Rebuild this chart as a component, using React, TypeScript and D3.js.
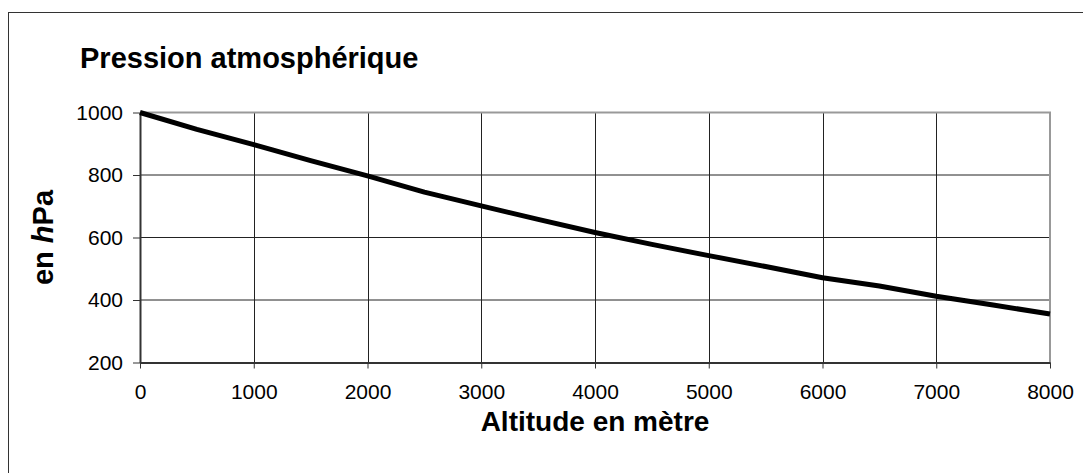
import { useEffect, useRef } from "react"
import * as d3 from "d3";

// altitude (m) and pressure (hPa)
const altitudes = [0, 500, 1000, 1500, 2000, 2500, 3000, 3500, 4000, 4500, 5000, 5500, 6000, 6500, 7000, 7500, 8000]
const pressures = [1000, 946, 897, 846, 797, 745, 701, 658, 616, 578, 542, 507, 471, 445, 412, 384, 355]
const xTicks = [0, 1000, 2000, 3000, 4000, 5000, 6000, 7000, 8000]
const yTicks = [200, 400, 600, 800, 1000]

export default function App() {
    const svgRef = useRef<SVGSVGElement>(null);
    const width = 1083, height = 473

    useEffect(() => {
        const margin = { top: 112.5, right: 33, bottom: 110.5, left: 140 },
            wt = width - margin.left - margin.right,
            ht = height - margin.top - margin.bottom
        const font = "Arial, 'Liberation Sans', sans-serif"

        d3.select(svgRef.current).selectAll("*").remove();
        const root = d3.select(svgRef.current)
            .attr("width", width)
            .attr("height", height)

        // outer frame
        root.append("rect")
            .attr("x", 8.5).attr("y", 12.5)
            .attr("width", width).attr("height", height)
            .attr("fill", "none").attr("stroke", "#333").attr("stroke-width", 1)

        root.append("text")
            .attr("x", 80).attr("y", 68)
            .style("font-family", font)
            .style("font-size", "29px")
            .style("font-weight", "bold")
            .text("Pression atmosphérique")

        const svg = root.append("g")
            .attr("transform", `translate(${margin.left},${margin.top})`);

        const x = d3.scaleLinear().domain([0, 8000]).range([0, wt])
        const y = d3.scaleLinear().domain([200, 1000]).range([ht, 0])

        // grid
        svg.append("g").selectAll("line")
            .data(xTicks.slice(1, -1))
            .join("line")
                .attr("x1", d => Math.round(x(d)) + 0.5).attr("x2", d => Math.round(x(d)) + 0.5)
                .attr("y1", 0).attr("y2", ht)
                .attr("stroke", "#222").attr("stroke-width", 1)
        svg.append("g").selectAll("line")
            .data(yTicks.slice(1, -1))
            .join("line")
                .attr("x1", 0).attr("x2", wt)
                .attr("y1", d => y(d)).attr("y2", d => y(d))
                .attr("stroke", "#222").attr("stroke-width", 1)

        // top and right border
        svg.append("path")
            .attr("d", `M0,0H${wt}V${ht}`)
            .attr("fill", "none").attr("stroke", "#999").attr("stroke-width", 2)

        const xAxis = svg.append("g")
            .attr("transform", `translate(0, ${ht})`)
            .call(d3.axisBottom(x).tickValues(xTicks).tickFormat(d3.format("d")).tickSize(6).tickPadding(16).tickSizeOuter(0))
        xAxis.select(".domain").attr("stroke", "#333").attr("stroke-width", 2)
        xAxis.selectAll(".tick line").attr("stroke", "#333")
        xAxis.selectAll("text")
            .style("font-family", font).style("font-size", "21px").attr("fill", "#000")

        const yAxis = svg.append("g")
            .call(d3.axisLeft(y).tickValues(yTicks).tickFormat(d3.format("d")).tickSize(7).tickPadding(10).tickSizeOuter(0))
        yAxis.select(".domain").attr("stroke", "#333").attr("stroke-width", 2)
        yAxis.selectAll(".tick line").attr("stroke", "#333")
        yAxis.selectAll("text")
            .style("font-family", font).style("font-size", "21px").attr("fill", "#000")

        const line = d3.line<number>()
            .x((d, i) => x(altitudes[i]))
            .y(d => y(d))
        svg.append("path")
            .datum(pressures)
            .attr("d", line)
            .attr("fill", "none")
            .attr("stroke", "#000")
            .attr("stroke-width", 5)
            .attr("stroke-linejoin", "round")

        // x-axis label
        svg.append("text")
            .attr("text-anchor", "middle")
            .attr("x", wt / 2)
            .attr("y", ht + 68)
            .style("font-family", font).style("font-size", "28px").style("font-weight", "bold")
            .text("Altitude en mètre");

        // y-axis label
        const yl = svg.append("text")
            .attr("text-anchor", "middle")
            .attr("transform", `translate(${53 - margin.left},${ht / 2}) rotate(-90)`)
            .style("font-family", font).style("font-size", "29px").style("font-weight", "bold")
        yl.append("tspan").text("en ")
        yl.append("tspan").style("font-style", "italic").text("h")
        yl.append("tspan").text("Pa")
    }, [])

    return (
        <svg ref={svgRef} style={{ position: "absolute", left: 0, top: 0 }}></svg>
    )
}
